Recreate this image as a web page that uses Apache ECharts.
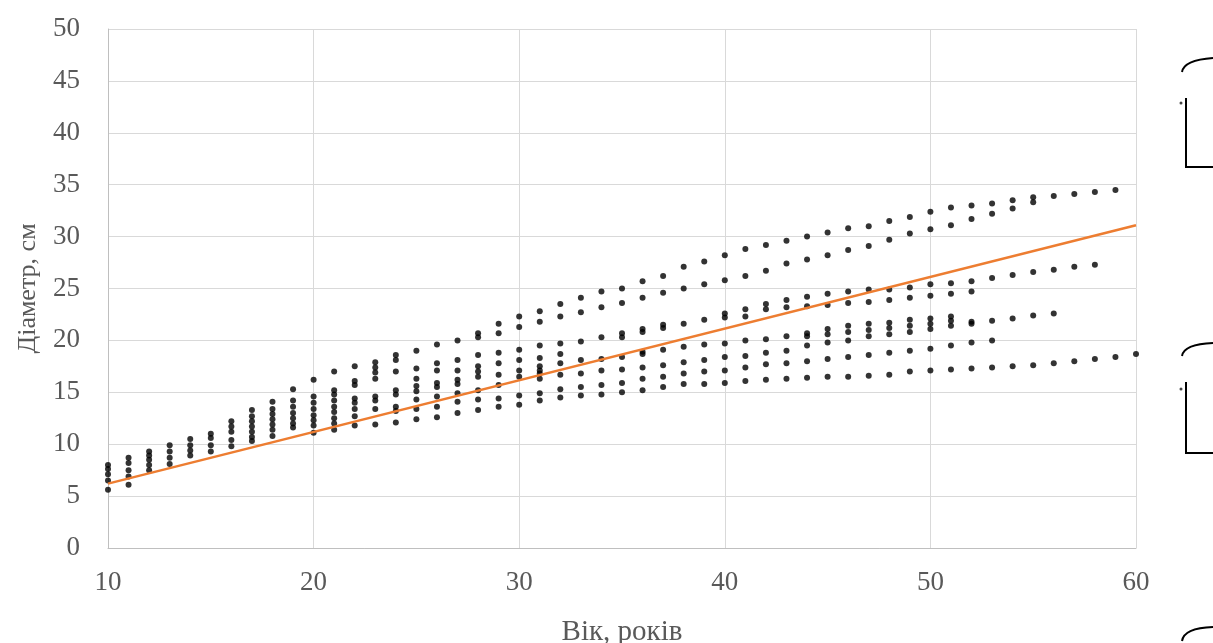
<!DOCTYPE html>
<html>
<head>
<meta charset="utf-8">
<script src="https://cdn.jsdelivr.net/npm/echarts@6/dist/echarts.min.js"></script>
<style>
html,body{margin:0;padding:0;background:#fff;}
#c{width:1213px;height:643px;}
</style>
</head>
<body>
<div id="c"></div>
<script>
// Age (years) of each column of measurements
const ages = [10,11,12,13,14,15,16,17,18,19,20,21,22,23,24,25,26,27,28,29,30,31,32,33,34,35,36,37,38,39,40,41,42,43,44,45,46,47,48,49,50,51,52,53,54,55,56,57,58,59,60];
// Diameters (cm) observed at each age
const diameters = [
  [8.0, 7.6, 7.1, 6.5, 5.6],
  [8.7, 8.2, 7.5, 6.9, 6.1],
  [9.3, 8.9, 8.5, 8.0, 7.5],
  [9.9, 9.3, 8.7, 8.1],
  [10.5, 9.9, 9.4, 8.9],
  [11.0, 10.6, 9.9, 9.3],
  [12.2, 11.7, 11.2, 10.4, 9.8],
  [13.3, 12.7, 12.2, 11.7, 11.2, 10.7, 10.3],
  [14.1, 13.4, 12.9, 12.4, 11.9, 11.4, 10.8],
  [15.3, 14.2, 13.6, 13.0, 12.5, 12.0, 11.6],
  [16.2, 14.6, 14.0, 13.4, 12.8, 12.3, 11.8, 11.1],
  [17.0, 15.2, 14.8, 14.2, 13.6, 13.1, 12.5, 12.0, 11.4],
  [17.5, 16.1, 15.7, 14.4, 14.0, 13.4, 12.7, 11.8],
  [17.9, 17.4, 16.9, 16.3, 14.6, 14.2, 13.4, 11.9],
  [18.6, 18.1, 17.0, 15.2, 14.8, 13.6, 13.2, 12.1],
  [19.0, 17.3, 16.3, 15.6, 15.1, 14.3, 13.4, 12.4],
  [19.6, 17.8, 17.1, 15.9, 15.5, 14.6, 13.6, 12.6],
  [20.0, 18.1, 17.1, 16.2, 15.8, 14.9, 14.1, 13.0],
  [20.7, 20.3, 18.6, 17.5, 17.0, 16.5, 15.2, 14.3, 13.3],
  [21.6, 20.7, 18.8, 17.8, 16.7, 15.7, 14.4, 13.6],
  [22.3, 21.3, 19.1, 18.1, 17.1, 16.5, 14.7, 13.8],
  [22.8, 21.8, 19.5, 18.3, 17.5, 17.1, 16.8, 16.3, 14.9, 14.2],
  [23.5, 22.3, 19.7, 18.7, 17.8, 16.7, 15.3, 14.5],
  [24.1, 22.7, 19.9, 18.1, 16.8, 15.5, 14.7],
  [24.7, 23.2, 20.3, 18.2, 17.1, 15.7, 14.8],
  [25.0, 23.6, 20.7, 20.3, 18.4, 17.2, 15.9, 15.0],
  [25.7, 24.1, 21.1, 20.8, 18.9, 18.7, 17.4, 16.3, 15.2],
  [26.2, 24.6, 21.5, 21.2, 19.1, 17.6, 16.5, 15.5],
  [27.1, 25.0, 21.6, 19.4, 17.9, 16.8, 15.8],
  [27.6, 25.4, 22.0, 19.6, 18.1, 17.0, 15.8],
  [28.2, 25.8, 22.6, 22.2, 19.7, 18.4, 17.1, 15.9],
  [28.8, 26.2, 23.0, 22.3, 20.0, 18.5, 17.4, 16.1],
  [29.2, 26.7, 23.5, 23.0, 20.1, 18.8, 17.7, 16.2],
  [29.6, 27.4, 23.9, 23.2, 20.4, 19.0, 17.8, 16.3],
  [30.0, 27.8, 24.2, 23.3, 20.7, 20.4, 19.5, 18.0, 16.4],
  [30.4, 28.2, 24.5, 23.4, 21.1, 20.6, 19.8, 18.2, 16.5],
  [30.8, 28.7, 24.7, 23.6, 21.4, 20.8, 20.0, 18.4, 16.5],
  [31.0, 29.1, 24.9, 23.7, 21.6, 21.0, 20.4, 18.6, 16.6],
  [31.5, 29.7, 24.9, 23.9, 21.7, 21.2, 20.6, 18.8, 16.7],
  [31.9, 30.3, 25.1, 24.1, 22.0, 21.4, 20.8, 19.0, 17.0],
  [32.4, 30.7, 25.4, 24.3, 22.1, 21.6, 21.1, 19.2, 17.1],
  [32.8, 31.1, 25.5, 24.5, 22.3, 21.9, 21.4, 19.5, 17.2],
  [33.0, 31.7, 25.7, 24.7, 21.8, 21.6, 19.8, 17.3],
  [33.2, 32.2, 26.0, 21.9, 20.0, 17.4],
  [33.5, 32.7, 26.3, 22.1, 17.5],
  [33.8, 33.3, 26.6, 22.4, 17.6],
  [33.9, 26.8, 22.6, 17.8],
  [34.1, 27.1, 18.0],
  [34.3, 27.3, 18.2],
  [34.5, 18.4],
  [18.7]
];
// Linear trend line end points [age, diameter]
const trendAges = [10, 60];
const trendDiameters = [6.2, 31.1];

const xTicks = [10, 20, 30, 40, 50, 60];
const yTicks = [0, 5, 10, 15, 20, 25, 30, 35, 40, 45, 50];

const points = [];
ages.forEach((a, i) => diameters[i].forEach(d => points.push([a, d])));
const trend = trendAges.map((a, i) => [a, trendDiameters[i]]);

const font = 'Liberation Serif';
const grey = '#595959';
const chart = echarts.init(document.getElementById('c'), null, {renderer: 'canvas'});
chart.setOption({
  animation: false,
  backgroundColor: '#fff',
  grid: {left: 108, right: 77, top: 29, bottom: 95, containLabel: false, outerBoundsMode: 'none'},
  xAxis: {
    type: 'value', min: xTicks[0], max: xTicks[xTicks.length - 1], interval: 10,
    name: 'Вік, років', nameLocation: 'middle', nameGap: 70,
    nameTextStyle: {fontFamily: font, fontSize: 29, color: grey},
    axisLine: {show: true, lineStyle: {color: '#bfbfbf', width: 1}},
    axisTick: {show: false},
    axisLabel: {fontFamily: font, fontSize: 27, color: grey, margin: 21},
    splitLine: {show: true, lineStyle: {color: '#d9d9d9', width: 1}}
  },
  yAxis: {
    type: 'value', min: yTicks[0], max: yTicks[yTicks.length - 1], interval: 5,
    name: 'Діаметр, см', nameLocation: 'middle', nameGap: 67, nameRotate: 90,
    nameTextStyle: {fontFamily: font, fontSize: 26, color: grey},
    axisLine: {show: true, lineStyle: {color: '#bfbfbf', width: 1}},
    axisTick: {show: false},
    axisLabel: {fontFamily: font, fontSize: 27, color: grey, margin: 28},
    splitLine: {show: true, lineStyle: {color: '#d9d9d9', width: 1}}
  },
  series: [
    {
      type: 'scatter', data: points, symbol: 'circle', symbolSize: 6,
      itemStyle: {color: '#000'}, z: 3
    },
    {
      type: 'line', data: trend, symbol: 'none',
      lineStyle: {color: '#ED7D31', width: 2.5}, z: 4
    }
  ],
  graphic: [
    {type: 'bezierCurve', shape: {x1: 1182, y1: 72, x2: 1213, y2: 58, cpx1: 1184, cpy1: 60}, style: {stroke: '#000', lineWidth: 2, fill: null}},
    {type: 'polyline', shape: {points: [[1186, 98], [1186, 167], [1213, 167]]}, style: {stroke: '#000', lineWidth: 2, fill: null}},
    {type: 'circle', shape: {cx: 1181, cy: 103, r: 1.5}, style: {fill: '#444'}},
    {type: 'bezierCurve', shape: {x1: 1182, y1: 356, x2: 1213, y2: 343, cpx1: 1184, cpy1: 344}, style: {stroke: '#000', lineWidth: 2, fill: null}},
    {type: 'polyline', shape: {points: [[1186, 382], [1186, 453], [1213, 453]]}, style: {stroke: '#000', lineWidth: 2, fill: null}},
    {type: 'circle', shape: {cx: 1181, cy: 389, r: 1.5}, style: {fill: '#444'}},
    {type: 'bezierCurve', shape: {x1: 1182, y1: 641, x2: 1213, y2: 627, cpx1: 1184, cpy1: 628}, style: {stroke: '#000', lineWidth: 2, fill: null}}
  ]
});
</script>
</body>
</html>
